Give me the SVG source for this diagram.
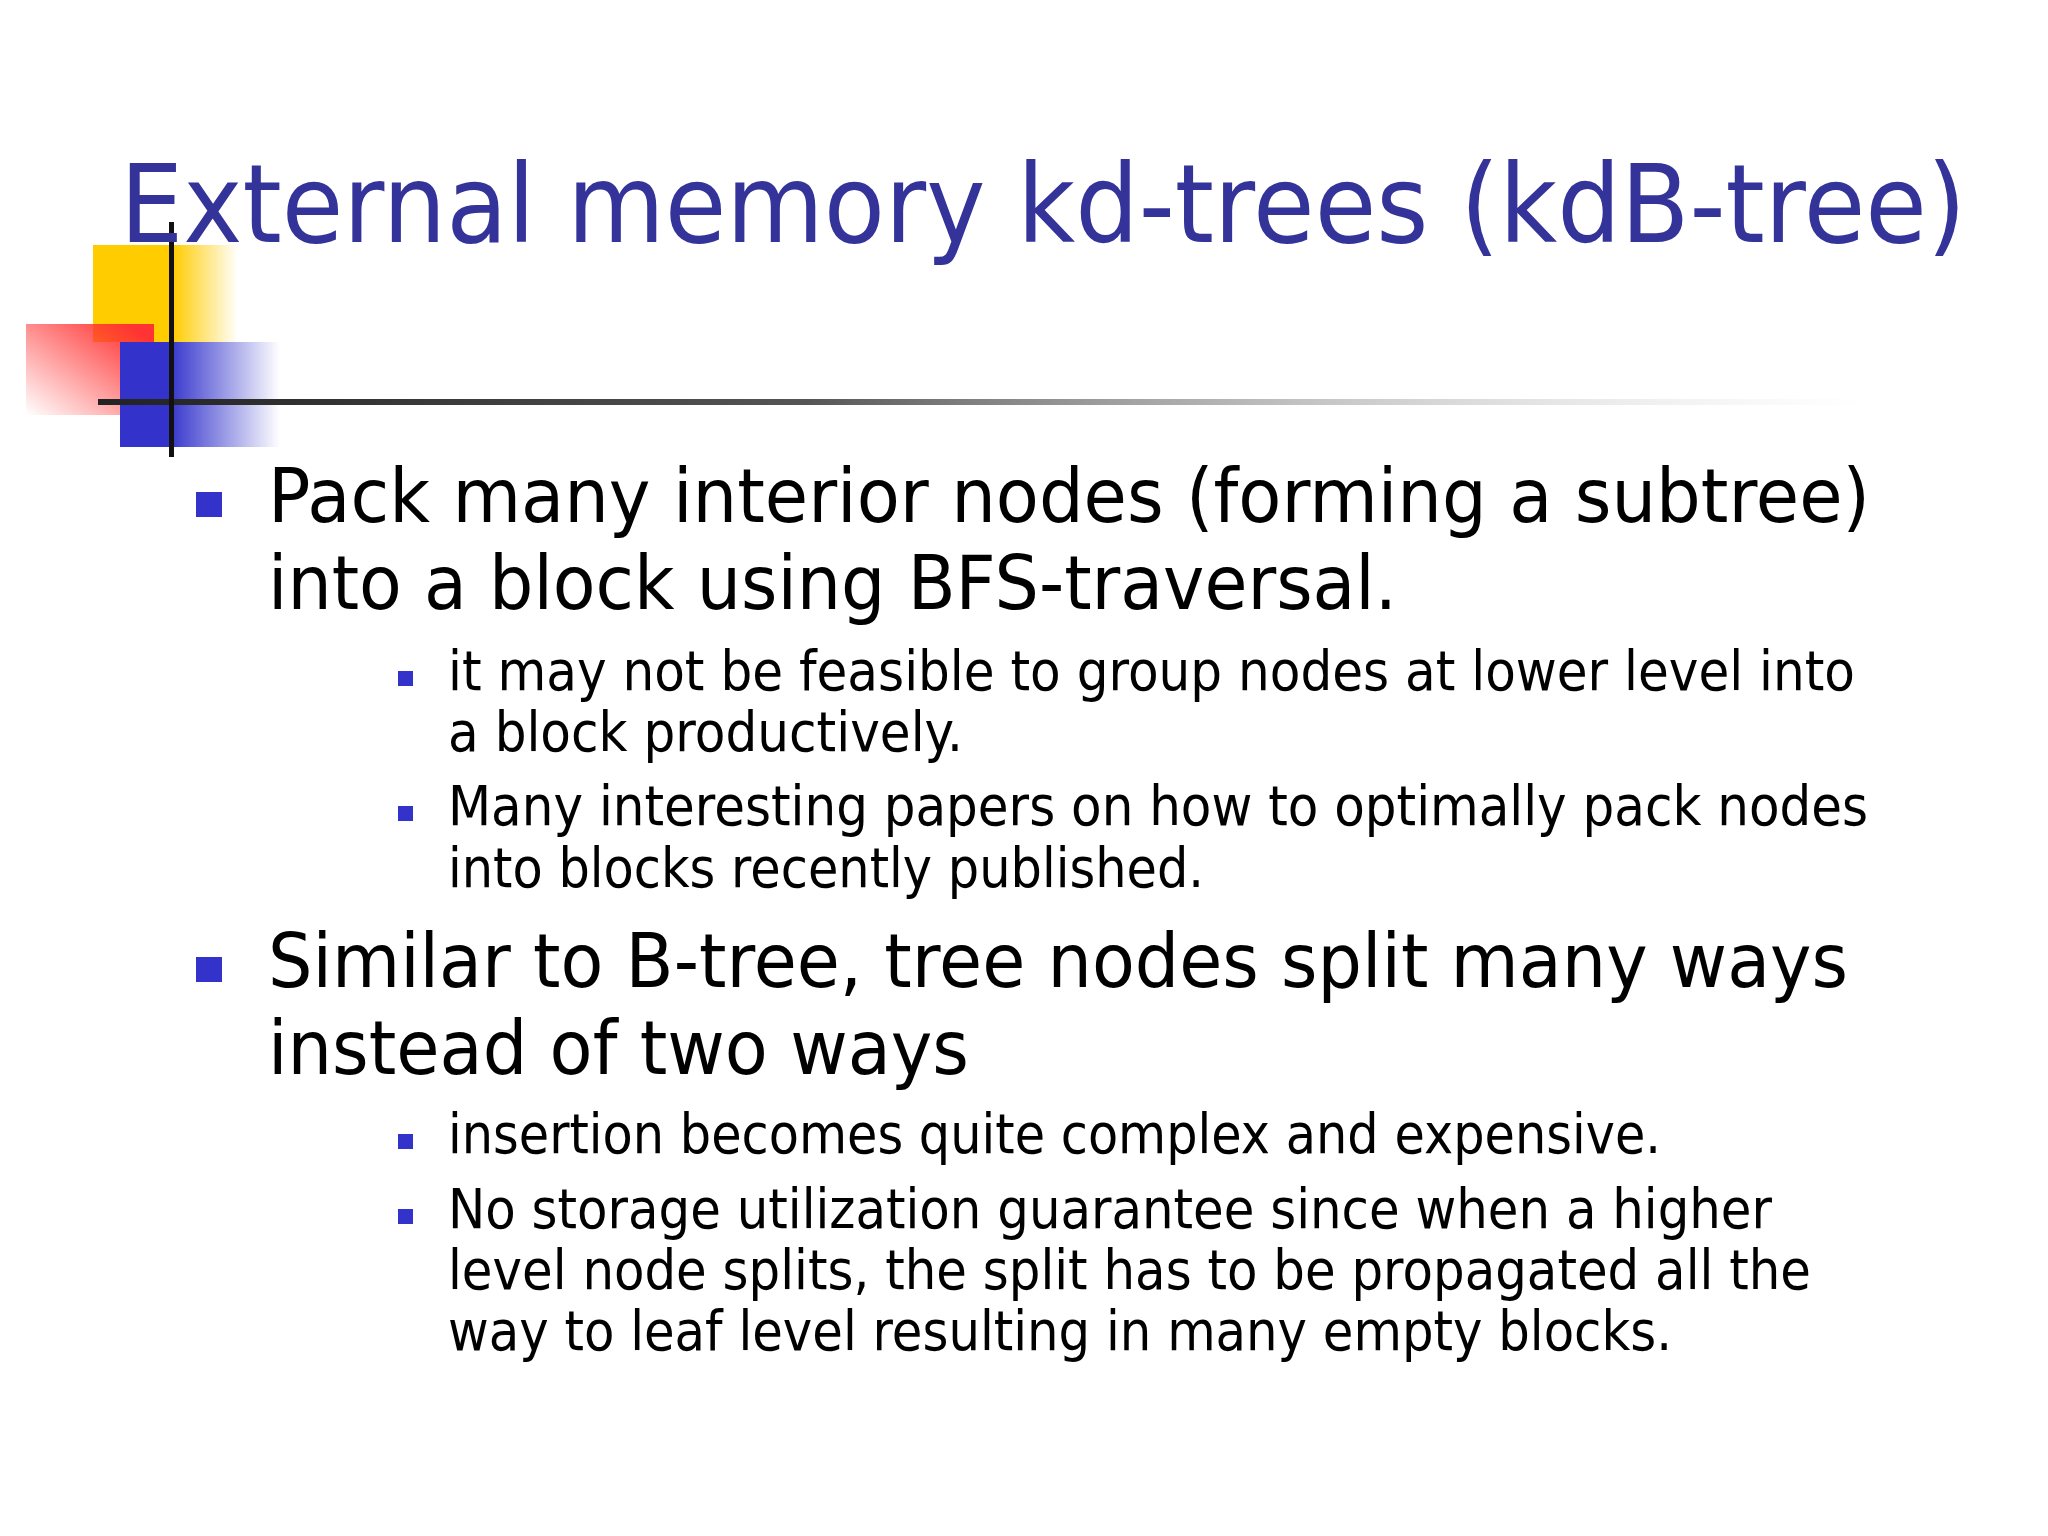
<svg xmlns="http://www.w3.org/2000/svg" width="2048" height="1536" viewBox="0 0 2048 1536">
<defs>
<linearGradient id="yg" x1="0" x2="1" y1="0" y2="0"><stop offset="0.55" stop-color="#ffcc00"/><stop offset="1" stop-color="#ffcc00" stop-opacity="0"/></linearGradient>
<linearGradient id="rg" x1="1" x2="0" y1="0" y2="1"><stop offset="0.1" stop-color="#ff3333"/><stop offset="1" stop-color="#ff3333" stop-opacity="0"/></linearGradient>
<linearGradient id="bg" x1="0" x2="1" y1="0" y2="0"><stop offset="0.3" stop-color="#3333cc"/><stop offset="1" stop-color="#3333cc" stop-opacity="0"/></linearGradient>
<linearGradient id="lg" x1="0" x2="1" y1="0" y2="0"><stop offset="0" stop-color="#222"/><stop offset="0.4" stop-color="#555"/><stop offset="1" stop-color="#ccc" stop-opacity="0"/></linearGradient>
<style>
.t{font-family:"DejaVu Sans","Verdana",sans-serif;fill:#000}
.b1{font-size:74px}
.b2{font-size:56px}
.bl{fill:#3333cc}
</style>
</defs>
<rect width="2048" height="1536" fill="#fff"/>
<g id="logo">
<rect x="93" y="245" width="145" height="97" fill="url(#yg)"/>
<rect x="26" y="324" width="128" height="91" fill="url(#rg)"/>
<rect x="120" y="342" width="160" height="105" fill="url(#bg)"/>
<rect x="98" y="399" width="1770" height="6" fill="url(#lg)"/>
<rect x="169" y="222" width="5" height="235" fill="#111"/>
</g>
<text id="title" x="120" y="242" font-family="DejaVu Sans, Verdana, sans-serif" font-size="108" fill="#333399" textLength="1846" lengthAdjust="spacingAndGlyphs">External memory kd-trees (kdB-tree)</text>
<g id="body">
<rect class="bl" x="196" y="492" width="26" height="25"/>
<text class="t b1" x="268" y="522" textLength="1602" lengthAdjust="spacingAndGlyphs">Pack many interior nodes (forming a subtree)</text>
<text class="t b1" x="268" y="609" textLength="1129" lengthAdjust="spacingAndGlyphs">into a block using BFS-traversal.</text>
<rect class="bl" x="398" y="671" width="15" height="15"/>
<text class="t b2" x="448" y="690" textLength="1407" lengthAdjust="spacingAndGlyphs">it may not be feasible to group nodes at lower level into</text>
<text class="t b2" x="448" y="751" textLength="515" lengthAdjust="spacingAndGlyphs">a block productively.</text>
<rect class="bl" x="398" y="806" width="15" height="15"/>
<text class="t b2" x="448" y="825" textLength="1420" lengthAdjust="spacingAndGlyphs">Many interesting papers on how to optimally pack nodes</text>
<text class="t b2" x="448" y="887" textLength="756" lengthAdjust="spacingAndGlyphs">into blocks recently published.</text>
<rect class="bl" x="196" y="957" width="26" height="25"/>
<text class="t b1" x="268" y="987" textLength="1580" lengthAdjust="spacingAndGlyphs">Similar to B-tree, tree nodes split many ways</text>
<text class="t b1" x="268" y="1074" textLength="701" lengthAdjust="spacingAndGlyphs">instead of two ways</text>
<rect class="bl" x="398" y="1134" width="15" height="15"/>
<text class="t b2" x="448" y="1153" textLength="1213" lengthAdjust="spacingAndGlyphs">insertion becomes quite complex and expensive.</text>
<rect class="bl" x="398" y="1209" width="15" height="15"/>
<text class="t b2" x="448" y="1228" textLength="1324" lengthAdjust="spacingAndGlyphs">No storage utilization guarantee since when a higher</text>
<text class="t b2" x="448" y="1289" textLength="1363" lengthAdjust="spacingAndGlyphs">level node splits, the split has to be propagated all the</text>
<text class="t b2" x="448" y="1350" textLength="1224" lengthAdjust="spacingAndGlyphs">way to leaf level resulting in many empty blocks.</text>
</g>
</svg>
